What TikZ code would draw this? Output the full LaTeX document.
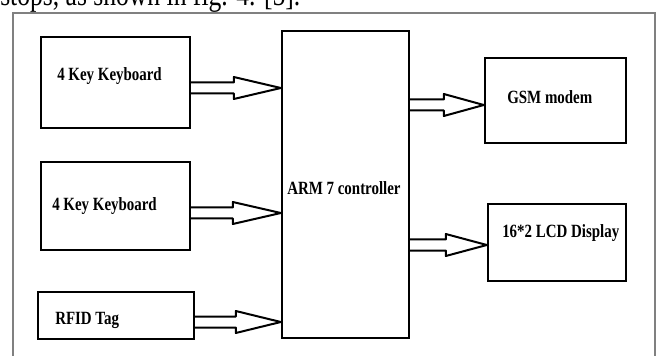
\documentclass[tikz,border=0pt]{standalone}
\usepackage{fontspec}
\usepackage{graphicx}
\setmainfont{Liberation Serif}
\usetikzlibrary{calc}

\newcommand{\boxlabel}[1]{\scalebox{0.8}[1]{\textbf{#1}}}
% hollow block arrow: from node, to node, y (px), head length (px)
\newcommand{\hollowarrow}[4]{%
  \coordinate (ay) at (0,#3);
  \coordinate (astart) at (#1.east |- ay);
  \coordinate (atip) at (#2.west |- ay);
  \draw[arrowline] ($(astart)+(0,-5.5)$) -- ($(atip)+(-#4,-5.5)$) -- ($(atip)+(-#4,-11)$) -- (atip)
    -- ($(atip)+(-#4,11)$) -- ($(atip)+(-#4,5.5)$) -- ($(astart)+(0,5.5)$);}

\begin{document}
\begin{tikzpicture}[x=0.75pt, y=-0.75pt,
  box/.style={draw, line width=1.8pt, inner sep=0pt},
  lbl/.style={anchor=base west, inner sep=0pt, font=\fontsize{14}{16}\selectfont},
  arrowline/.style={line width=1.5pt, line join=round},
  frameline/.style={draw=black!50, line width=0.8pt}]
\clip (0,0) rectangle (657,356);

% Text above the figure
\node[anchor=base west, inner sep=0pt, font=\fontsize{24}{28}\selectfont] (caption) at (0,6) {\scalebox{0.8}[1]{stops, as shown in fig. 4. [5].}};

% Frame
\draw[frameline] (13,13) rectangle (655,380);

% Inputs
\node[box, minimum width=111.75pt, minimum height=68.25pt] (kb1) at (115.5,82.5) {};
\node[lbl] (kb1txt) at (57,81) {\boxlabel{4 Key Keyboard}};
\node[box, minimum width=111.75pt, minimum height=66pt] (kb2) at (115.5,206) {};
\node[lbl] (kb2txt) at (52,211) {\boxlabel{4 Key Keyboard}};
\node[box, minimum width=117pt, minimum height=35.25pt] (rfid) at (116,315.5) {};
\node[lbl] (rfidtxt) at (55,324) {\boxlabel{RFID Tag}};

% Controller
\node[box, minimum width=95.25pt, minimum height=230.25pt] (arm) at (345.5,184.5) {};
\node[lbl] (armtxt) at (287,195) {\boxlabel{ARM 7 controller}};

% Outputs
\node[box, minimum width=105.75pt, minimum height=63.75pt] (gsm) at (555.5,100.5) {};
\node[lbl] (gsmtxt) at (507,104) {\boxlabel{GSM modem}};
\node[box, minimum width=103.5pt, minimum height=57.75pt] (lcd) at (557,242.5) {};
\node[lbl] (lcdtxt) at (502,238) {\boxlabel{16*2 LCD Display}};

% Arrows
\hollowarrow{kb1}{arm}{88}{47}
\hollowarrow{kb2}{arm}{213}{48}
\hollowarrow{rfid}{arm}{322}{45}
\hollowarrow{arm}{gsm}{105}{40}
\hollowarrow{arm}{lcd}{245}{41}

\end{tikzpicture}
\end{document}
